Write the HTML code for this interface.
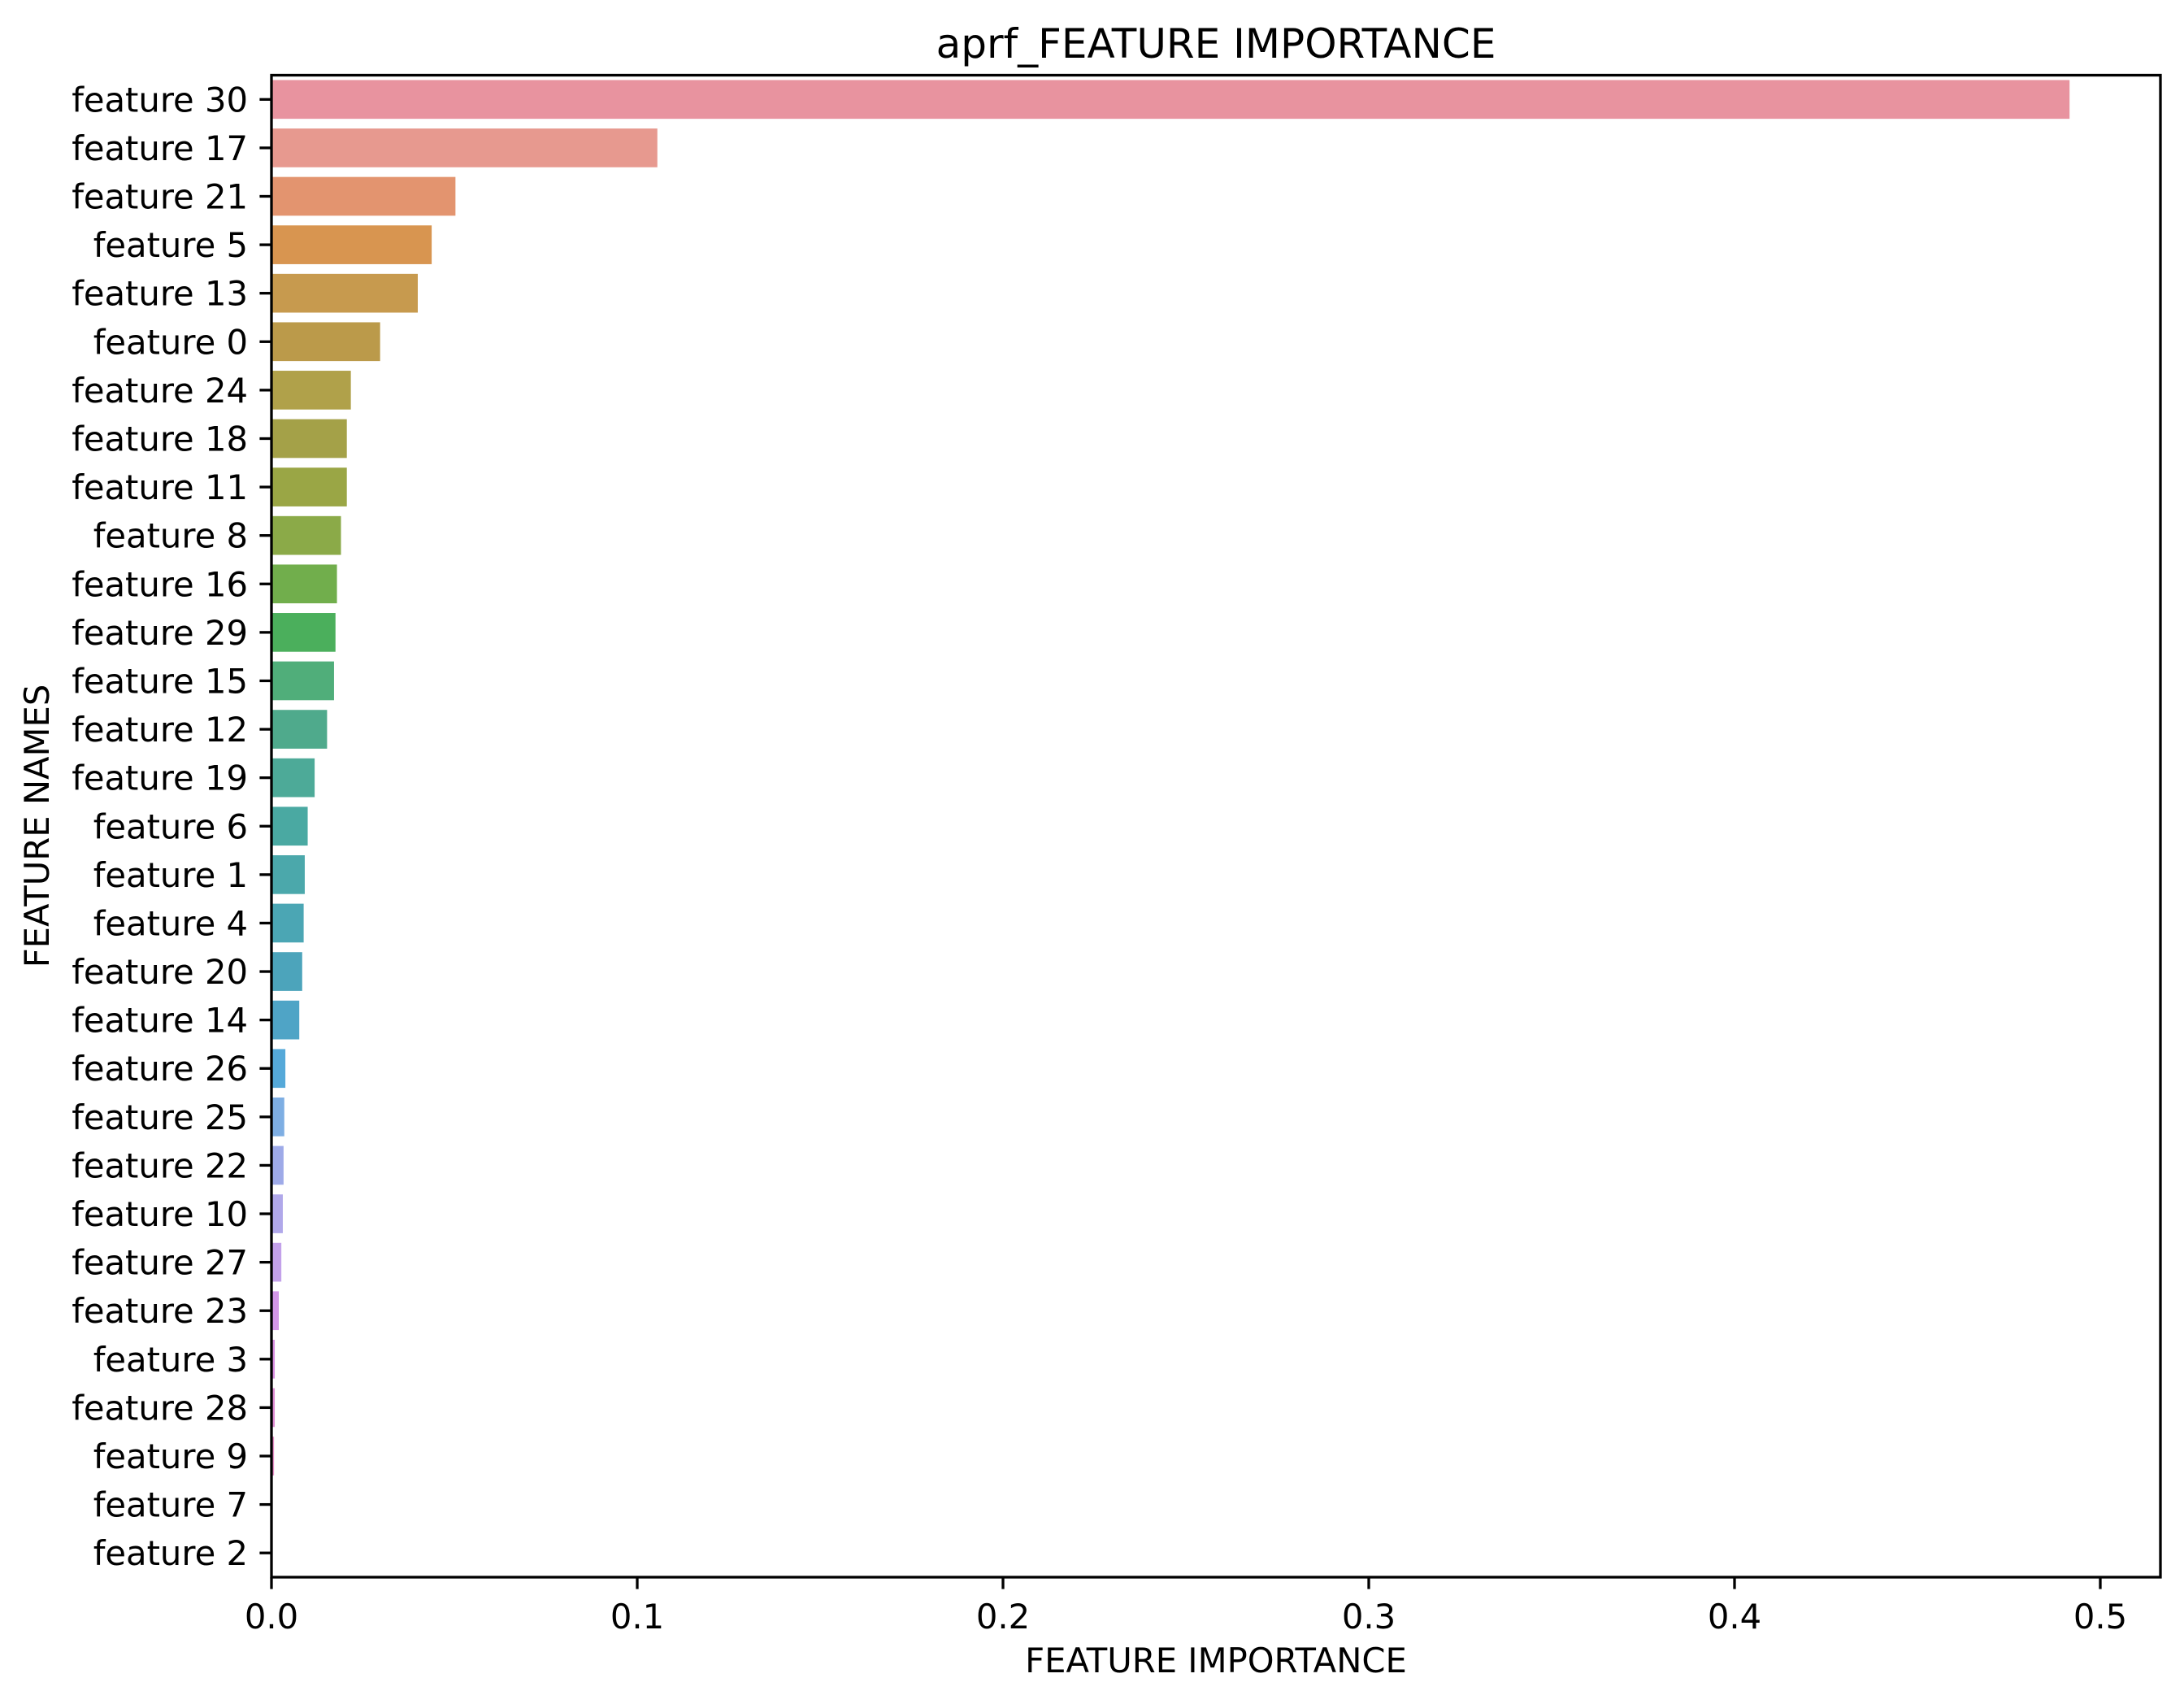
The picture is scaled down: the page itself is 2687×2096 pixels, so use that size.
<!DOCTYPE html>
<html><head><meta charset="utf-8"><style>
html,body{margin:0;padding:0;background:#fff;}
svg{display:block;font-family:"DejaVu Sans","Liberation Sans",sans-serif;}
</style></head><body>
<svg id="chart" width="2687" height="2096" viewBox="0 0 2687 2096" xmlns="http://www.w3.org/2000/svg">
<rect width="2687" height="2096" fill="#fff"/>
<text x="1496" y="71" font-size="50" text-anchor="middle">aprf_FEATURE IMPORTANCE</text>
<g id="bars"></g>
<g id="yticks"></g>
<g id="xticks"></g>
<rect x="334" y="92.5" width="2324" height="1847.5" fill="none" stroke="#000" stroke-width="3.3"/>
<text x="1496" y="2057" font-size="41.7" text-anchor="middle">FEATURE IMPORTANCE</text>
<text x="0" y="0" font-size="41.7" text-anchor="middle" transform="translate(60,1016) rotate(-90)">FEATURE NAMES</text>
</svg>
<script>
const categories = ["feature 30","feature 17","feature 21","feature 5","feature 13","feature 0","feature 24","feature 18","feature 11","feature 8","feature 16","feature 29","feature 15","feature 12","feature 19","feature 6","feature 1","feature 4","feature 20","feature 14","feature 26","feature 25","feature 22","feature 10","feature 27","feature 23","feature 3","feature 28","feature 9","feature 7","feature 2"];
const values = [0.4916,0.1055,0.0503,0.0438,0.0400,0.0297,0.0217,0.0206,0.0206,0.0190,0.0179,0.0175,0.0171,0.0152,0.0118,0.0099,0.0091,0.0088,0.0084,0.0076,0.0038,0.0035,0.0033,0.0031,0.0027,0.0020,0.0009,0.0009,0.0007,0,0];
const xTicks = [0,0.1,0.2,0.3,0.4,0.5];
const xTickLabels = ["0.0","0.1","0.2","0.3","0.4","0.5"];
const colors = ["#e8939f","#e7998f","#e3946f","#d89550","#c79a4e","#bb9a4a","#b0a14a","#a4a148","#9aa645","#8baa48","#71ae4c","#4baf5c","#50ae7a","#4faa8c","#4daa98","#4aa9a2","#4ba8ab","#4ba6b4","#4ca4bb","#4fa4c6","#55a9d9","#7eaee3","#9eaae8","#b0a8ea","#c3a1ea","#d397e8","#d88ee0","#de8cd2","#e48dc4","#e68fb6","#e891ab"];
const NS="http://www.w3.org/2000/svg";
const L=334,R=2658,T=92.5,B=1940;
const X0=334, PX_PER_UNIT=4500;
function xs(v){return X0+v*PX_PER_UNIT;}
const band=(B-T)/categories.length;
function yc(i){return T+band*(i+0.5);}
const gb=document.getElementById('bars'),gy=document.getElementById('yticks'),gx=document.getElementById('xticks');
categories.forEach((c,i)=>{
  const r=document.createElementNS(NS,'rect');
  
  
  r.setAttribute('x',xs(0));r.setAttribute('y',yc(i)-band*0.4);
  r.setAttribute('width',Math.max(0,xs(values[i])-xs(0)));r.setAttribute('height',band*0.8);
  r.setAttribute('fill',colors[i]);gb.appendChild(r);
  const tk=document.createElementNS(NS,'line');
  
  
  tk.setAttribute('x1',L-14.6);tk.setAttribute('x2',L);tk.setAttribute('y1',yc(i));tk.setAttribute('y2',yc(i));
  tk.setAttribute('stroke','#000');tk.setAttribute('stroke-width','3.3');gy.appendChild(tk);
  const t=document.createElementNS(NS,'text');
  
  
  t.setAttribute('x',L-29);t.setAttribute('y',yc(i)+15);t.setAttribute('font-size','41.7');
  t.setAttribute('text-anchor','end');t.textContent=c;gy.appendChild(t);
});
xTicks.forEach((v,i)=>{
  const tk=document.createElementNS(NS,'line');
  
  
  tk.setAttribute('x1',xs(v));tk.setAttribute('x2',xs(v));tk.setAttribute('y1',B);tk.setAttribute('y2',B+14.6);
  tk.setAttribute('stroke','#000');tk.setAttribute('stroke-width','3.3');gx.appendChild(tk);
  const t=document.createElementNS(NS,'text');
  
  
  t.setAttribute('x',xs(v));t.setAttribute('y',B+63);t.setAttribute('font-size','41.7');
  t.setAttribute('text-anchor','middle');t.textContent=xTickLabels[i];gx.appendChild(t);
});
</script>
</body></html>
